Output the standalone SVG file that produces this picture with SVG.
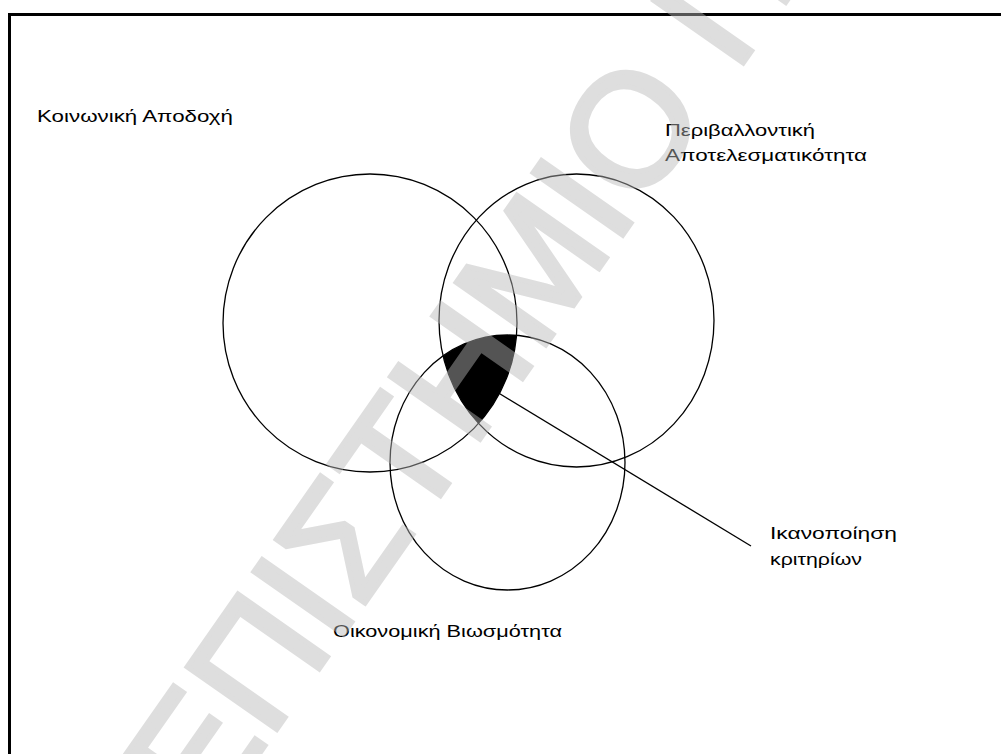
<svg xmlns="http://www.w3.org/2000/svg" width="1001" height="754" viewBox="0 0 1001 754">
  <style>
    .ring { fill: none; stroke: #000; stroke-width: 1.3; }
    .label { font-family: "Liberation Sans", Arial, sans-serif; font-size: 17px; fill: #000; }
    .mark { font-family: "Liberation Sans", Arial, sans-serif; font-size: 159px; fill: #b8b8b8; stroke: #b8b8b8; stroke-width: 5; stroke-linejoin: miter; }
  </style>
  <defs>
    <clipPath id="clipSocial"><ellipse cx="370" cy="323" rx="147" ry="149"/></clipPath>
    <clipPath id="clipEnv"><ellipse cx="576.5" cy="320.5" rx="137.5" ry="146.5"/></clipPath>
  </defs>

  <rect x="0" y="0" width="1001" height="754" fill="#fff"/>
  <!-- frame -->
  <rect x="9.5" y="14.5" width="1100" height="800" fill="none" stroke="#000" stroke-width="3"/>

  <!-- region shared by all three sets -->
  <g id="overlap" clip-path="url(#clipSocial)">
    <g clip-path="url(#clipEnv)">
      <ellipse cx="507.5" cy="462.5" rx="117.5" ry="127.5" fill="#000"/>
    </g>
  </g>

  <g id="social">
    <ellipse class="ring" cx="370" cy="323" rx="147" ry="149"/>
    <text class="label" x="37" y="122" textLength="196" lengthAdjust="spacingAndGlyphs">Κοινωνική Αποδοχή</text>
  </g>
  <g id="environment">
    <ellipse class="ring" cx="576.5" cy="320.5" rx="137.5" ry="146.5"/>
    <text class="label" x="665" y="136" textLength="150" lengthAdjust="spacingAndGlyphs">Περιβαλλοντική</text>
    <text class="label" x="665" y="161" textLength="202" lengthAdjust="spacingAndGlyphs">Αποτελεσματικότητα</text>
  </g>
  <g id="economy">
    <ellipse class="ring" cx="507.5" cy="462.5" rx="117.5" ry="127.5"/>
    <text class="label" x="333" y="637" textLength="229" lengthAdjust="spacingAndGlyphs">Οικονομική Βιωσμότητα</text>
  </g>
  <g id="criteria">
    <text class="label" x="770" y="539" textLength="127" lengthAdjust="spacingAndGlyphs">Ικανοποίηση</text>
    <text class="label" x="770" y="565" textLength="92" lengthAdjust="spacingAndGlyphs">κριτηρίων</text>
  </g>

  <g id="connectors">
    <line x1="492" y1="389" x2="751" y2="546" stroke="#000" stroke-width="1.3"/>
  </g>

  <!-- diagonal watermark -->
  <g opacity="0.46">
    <text class="mark" transform="translate(208.3 827.1) rotate(-55)" x="0" y="0">ΕΠΙΣΤΗΜΙΟ Π</text>
  </g>
</svg>
